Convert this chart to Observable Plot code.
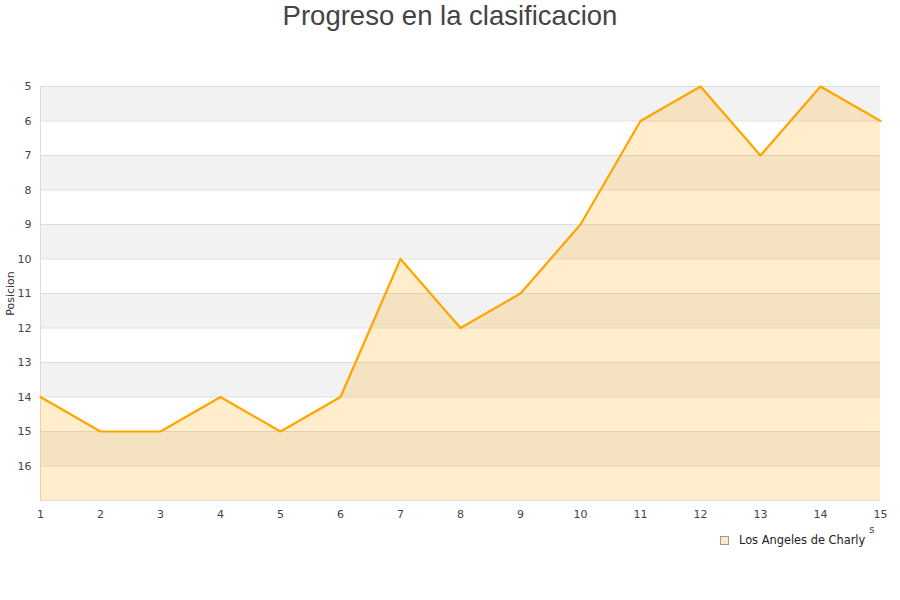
<!DOCTYPE html>
<html>
<head>
<meta charset="utf-8">
<script src="https://cdn.jsdelivr.net/npm/d3@7"></script>
<script src="https://cdn.jsdelivr.net/npm/@observablehq/plot@0.6"></script>
<style>
  body { margin: 0; background: #fff; }
  #wrap { position: relative; width: 900px; height: 600px; }
  #title { position: absolute; left: 0; top: 0; width: 900px; text-align: center;
    font-family: "Liberation Sans", Arial, sans-serif; font-size: 27.5px; color: #444; line-height: 32px; }
  #legend { position: absolute; left: 720px; top: 533px; font-family: "DejaVu Sans", sans-serif;
    font-size: 11.4px; color: #222; display: flex; align-items: center; }
  #legend .sw { width: 7px; height: 7px; background: #FFEBCC; border: 1px solid #999; margin-right: 10px; }
  #chart { position: absolute; left: 0; top: 0; }
</style>
</head>
<body>
<div id="wrap">
  <div id="chart"></div>
  <div id="title">Progreso en la clasificacion</div>
  <div id="legend"><span class="sw"></span><span>Los Angeles de Charly</span></div>
</div>
<script>
const jornadas = [1,2,3,4,5,6,7,8,9,10,11,12,13,14,15];
const posiciones = [14,15,15,14,15,14,10,12,11,9,6,5,7,5,6];
const yTicks = [5,6,7,8,9,10,11,12,13,14,15,16];
const gridLines = [5,6,7,8,9,10,11,12,13,14,15,16,17];
const greyBandStarts = [5,7,9,11,13,15];
const serieNombre = "Los Angeles de Charly";
const yLabel = "Posicion";

const data = jornadas.map((j,i) => ({j, pos: posiciones[i]}));
const bands = greyBandStarts.map(s => ({s, e: s + 1}));

const chart = Plot.plot({
  width: 900,
  height: 600,
  marginTop: 86,
  marginBottom: 100,
  marginLeft: 40,
  marginRight: 20,
  style: { fontFamily: "DejaVu Sans, sans-serif", fontSize: "11px", color: "#444", background: "transparent" },
  x: { domain: [1, 15], ticks: jornadas },
  y: { domain: [5, 17], reverse: true },
  marks: [
    Plot.rect(bands, { x1: 1, x2: 15, y1: "s", y2: "e", fill: "#f2f2f2" }),
    Plot.ruleY(gridLines, { stroke: "#dddddd", strokeWidth: 1 }),
    Plot.ruleX([1], { y1: 5, y2: 17, stroke: "#dddddd" }),
    Plot.areaY(data, { x: "j", y1: 17, y2: "pos", fill: "rgb(255,165,0)", fillOpacity: 0.2 }),
    Plot.lineY(data, { x: "j", y: "pos", stroke: "#FFA500", strokeWidth: 2.2 }),
    Plot.axisX({ ticks: jornadas, tickSize: 0, tickPadding: 10, label: null, fill: "#444" }),
    Plot.axisY({ ticks: yTicks, tickSize: 0, tickPadding: 9, label: null, fill: "#444" }),
    Plot.text([yLabel], { frameAnchor: "left", dx: -30, rotate: -90, textAnchor: "middle", fontSize: 11, fill: "#333" }),
    Plot.text(["s"], { frameAnchor: "bottom-right", dx: -6, dy: 32, fontSize: 10, fill: "#444" })
  ]
});
document.getElementById("chart").appendChild(chart);
</script>
</body>
</html>
